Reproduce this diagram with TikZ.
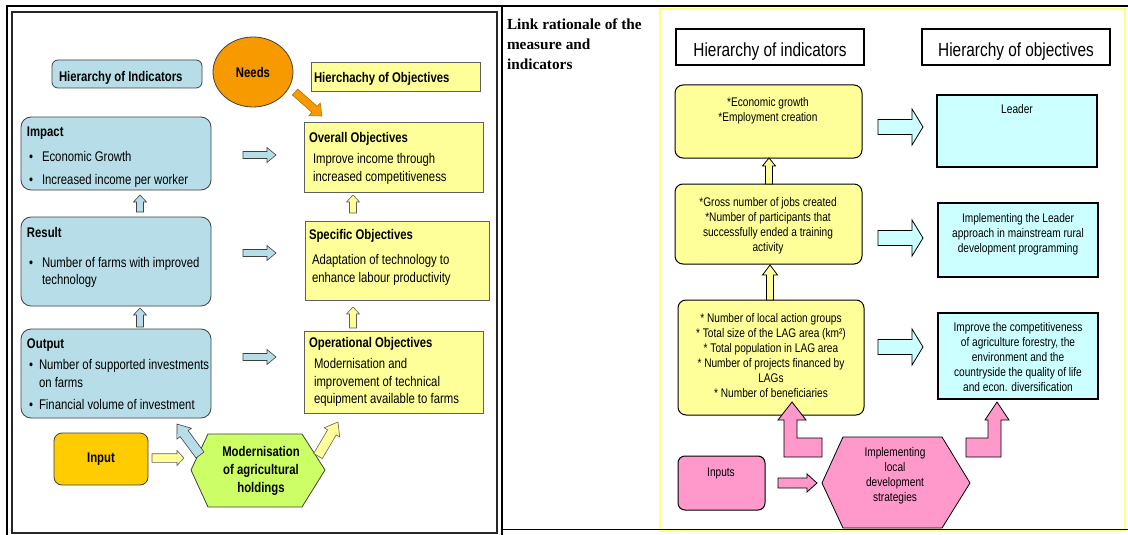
\documentclass[tikz,border=0pt]{standalone}
\usepackage{fontspec}
\setmainfont{Liberation Sans}[FakeStretch=0.81]
\newfontfamily\tfont{Liberation Serif}
\usetikzlibrary{calc,shapes.geometric}
\definecolor{lblue}{HTML}{B7DEE8}
\definecolor{lyel}{HTML}{FFFF99}
\definecolor{needsc}{HTML}{F79A00}
\definecolor{goldc}{HTML}{FFCC00}
\definecolor{lgreen}{HTML}{CCFF66}
\definecolor{cyanb}{HTML}{CCFFFF}
\definecolor{pinkb}{HTML}{FF99CC}
\definecolor{bord}{HTML}{404040}
\definecolor{ybord}{HTML}{606060}
\definecolor{yframe}{HTML}{FFFF80}
\newcommand\lf{\fontsize{14}{16}\selectfont}
\newcommand\rf{\fontsize{12.5}{15}\selectfont}
% block arrow: #1 style, #2 tail, #3 tip, #4 half shaft, #5 half head, #6 head length
\newcommand\blkarrow[6]{%
  \coordinate (bac) at ($(#3)!#6!(#2)$);
  \path[#1] ($(#2)!#4!90:(#3)$) -- ($(bac)!#4!90:(#3)$) -- ($(bac)!#5!90:(#3)$) -- (#3)
    -- ($(bac)!#5!-90:(#3)$) -- ($(bac)!#4!-90:(#3)$) -- ($(#2)!#4!-90:(#3)$) -- cycle;}
\begin{document}
\begin{tikzpicture}[x=1pt,y=-1pt,
  every node/.style={inner sep=0pt, outer sep=0pt},
  lbox/.style={draw=bord, fill=lblue, rounded corners=10pt, line width=0.8pt},
  ybox/.style={draw=ybord, fill=lyel, line width=0.8pt},
  ltxt/.style={anchor=mid west, font=\lf, yshift=-2.5pt},
  ltit/.style={anchor=mid west, font=\lf\bfseries, yshift=-2.5pt},
  rtxt/.style={anchor=north, align=center, font=\rf},
  ryb/.style={draw=black, fill=lyel, rounded corners=8pt, line width=1pt},
  rcb/.style={draw=black, fill=cyanb, line width=1.2pt},
  hbox/.style={draw=black, fill=white, line width=1.8pt},
  la/.style={fill=lblue, draw=bord, line width=0.6pt},
  ya/.style={fill=lyel, draw=ybord, line width=0.6pt},
  oa/.style={fill=needsc, draw=needsc!75!black, line width=0.6pt},
  ca/.style={fill=cyanb, draw=black, line width=0.8pt},
  yra/.style={fill=lyel, draw=black, line width=0.8pt},
  pa/.style={fill=pinkb, draw=black, line width=0.8pt}]
\useasboundingbox (0,0) rectangle (1128,535);
% ---------- frames ----------
\draw[yframe, line width=1.6pt] (660,9) rectangle (1125,531);
\draw[line width=2pt] (7,535) -- (7,6) -- (1128,6);
\draw[black!85, line width=1.6pt] (12,12) rectangle (497,533);
\draw[line width=1.8pt] (502,6) -- (502,535);
\draw[line width=1pt] (502,529) -- (1128,529);
% ---------- left panel ----------
\node[lbox, rounded corners=6pt, minimum width=150pt, minimum height=28pt] (hind) at (127,74) {};
\node[ltit] (hindt) at (59,76) {Hierarchy of Indicators};
\node[ellipse, draw=bord, fill=needsc, line width=0.8pt, minimum width=80pt, minimum height=70pt, font=\lf\bfseries] (needs) at (253,72) {Needs};
\node[ybox, minimum width=169pt, minimum height=29pt] (hobj) at (395.5,76.5) {};
\node[ltit] (hobjt) at (314,77) {Hierchachy of Objectives};

\node[lbox, minimum width=190pt, minimum height=73pt] (impact) at (116,153.5) {};
\node[ltit] (impt) at (27,131) {Impact};
\node[ltxt] (impb1) at (29,156) {•};
\node[ltxt] (imp1) at (42,156) {Economic Growth};
\node[ltxt] (impb2) at (29,179) {•};
\node[ltxt] (imp2) at (42,179) {Increased income per worker};

\node[ybox, minimum width=179pt, minimum height=70pt] (overall) at (393.5,157) {};
\node[ltit] (ovt) at (309,137) {Overall Objectives};
\node[ltxt] (ov1) at (313,158) {Improve income through};
\node[ltxt] (ov2) at (313,176) {increased competitiveness};

\node[lbox, minimum width=190pt, minimum height=89pt] (result) at (116,261.5) {};
\node[ltit] (rest) at (27,232) {Result};
\node[ltxt] (resb1) at (29,262) {•};
\node[ltxt] (res1) at (42,262) {Number of farms with improved};
\node[ltxt] (res2) at (42,279) {technology};

\node[ybox, minimum width=184pt, minimum height=79pt] (specific) at (397,260.5) {};
\node[ltit] (spt) at (309,234) {Specific Objectives};
\node[ltxt] (sp1) at (312,259) {Adaptation of technology to};
\node[ltxt] (sp2) at (312,277) {enhance labour productivity};

\node[lbox, minimum width=190pt, minimum height=89pt] (output) at (116,373.5) {};
\node[ltit] (outt) at (27,343) {Output};
\node[ltxt] (outb1) at (29,364) {•};
\node[ltxt] (out1) at (39,364) {Number of supported investments};
\node[ltxt] (out2) at (39,382) {on farms};
\node[ltxt] (outb2) at (29,404) {•};
\node[ltxt] (out3) at (39,404) {Financial volume of investment};

\node[ybox, minimum width=179pt, minimum height=82pt] (oper) at (393.5,372) {};
\node[ltit] (opt) at (309,342) {Operational Objectives};
\node[ltxt] (op1) at (314,363) {Modernisation and};
\node[ltxt] (op2) at (314,381) {improvement of technical};
\node[ltxt] (op3) at (314,398) {equipment available to farms};

\node[draw=bord, fill=goldc, rounded corners=8pt, line width=0.8pt, minimum width=94pt, minimum height=52pt, font=\lf\bfseries] (input) at (101,459) {Input};

\draw[draw=bord, fill=lgreen, line width=0.8pt] (191,470) coordinate (hxW) -- (208,434) -- (302,434) -- (325,470) coordinate (hxE) -- (302,507) -- (208,507) -- cycle;
\node[align=center, font=\fontsize{14}{18}\selectfont\bfseries] (hext) at (261,471) {Modernisation\\of agricultural\\holdings};

% left arrows
\coordinate (n1) at (295,92);   \coordinate (n2) at (322,116);
\blkarrow{oa}{n1}{n2}{4pt}{8.5pt}{10pt}
\foreach \y/\n in {155/h1,253/h2,357/h3}{
  \coordinate (\n t) at (243,\y); \coordinate (\n h) at (276,\y);
  \blkarrow{la}{\n t}{\n h}{3.5pt}{7.5pt}{9pt}}
\coordinate (v1t) at (140,212); \coordinate (v1h) at (140,195);
\coordinate (v2t) at (140,327); \coordinate (v2h) at (140,308);
\coordinate (v3t) at (353,213); \coordinate (v3h) at (353,195);
\coordinate (v4t) at (353,328); \coordinate (v4h) at (353,307);
\blkarrow{la}{v1t}{v1h}{3.5pt}{6.5pt}{7pt}
\blkarrow{la}{v2t}{v2h}{3.5pt}{6.5pt}{7pt}
\blkarrow{ya}{v3t}{v3h}{3.5pt}{6.5pt}{7pt}
\blkarrow{ya}{v4t}{v4h}{3.5pt}{6.5pt}{7pt}
\coordinate (it) at (152,458); \coordinate (ih) at (184,458);
\blkarrow{ya}{it}{ih}{4.3pt}{7.5pt}{7pt}
\coordinate (d1t) at (200,455); \coordinate (d1h) at (177,424);
\blkarrow{la}{d1t}{d1h}{5pt}{9pt}{12pt}
\coordinate (d2t) at (318,456); \coordinate (d2h) at (338,422);
\blkarrow{ya}{d2t}{d2h}{5pt}{9pt}{12pt}

% ---------- right panel ----------
\node[anchor=north west, align=left, font=\tfont\bfseries\fontsize{15.3}{20}\selectfont] (link) at (507,19) {Link rationale of the\\measure and\\indicators};

\node[hbox, minimum width=188pt, minimum height=36pt] (hindR) at (770,47) {};
\node[anchor=base, font=\fontsize{19}{22}\selectfont] (hindRt) at (770,57) {Hierarchy of indicators};
\node[hbox, minimum width=188pt, minimum height=36pt] (hobjR) at (1016,47) {};
\node[anchor=base, font=\fontsize{19}{22}\selectfont] (hobjRt) at (1016,57) {Hierarchy of objectives};

\node[ryb, minimum width=187pt, minimum height=73pt] (b1) at (768.5,121.5) {};
\node[rtxt] (b1t) at (768,97) {*Economic growth\\*Employment creation};
\node[ryb, minimum width=187pt, minimum height=80pt] (b2) at (768.5,224) {};
\node[rtxt] (b2t) at (768,197) {*Gross number of jobs created\\*Number of participants that\\successfully ended a training\\activity};
\node[ryb, minimum width=186pt, minimum height=115pt] (b3) at (771,357.5) {};
\node[rtxt] (b3t) at (771,313) {* Number of local action groups\\* Total size of the LAG area (km²)\\* Total population in LAG area\\* Number of projects financed by\\LAGs\\* Number of beneficiaries};

\node[rcb, minimum width=160pt, minimum height=72pt] (leader) at (1017,131) {};
\node[rtxt] (leadert) at (1017,104) {Leader};
\node[rcb, minimum width=160pt, minimum height=74pt] (impl) at (1018,240) {};
\node[rtxt] (implt) at (1018,213) {Implementing the Leader\\approach in mainstream rural\\development programming};
\node[rcb, minimum width=160pt, minimum height=86pt] (improve) at (1018,356) {};
\node[rtxt] (improvet) at (1018,322) {Improve the competitiveness\\of agriculture forestry, the\\environment and the\\countryside the quality of life\\and econ. diversification};

\node[draw=black, fill=pinkb, rounded corners=7pt, line width=1pt, minimum width=87pt, minimum height=54pt] (inputs) at (721.5,483) {};
\node[rtxt] (inputst) at (721,468) {Inputs};

\draw[draw=black, fill=pinkb, line width=0.8pt] (822,483) coordinate (hyW) -- (843,437) -- (942,437) -- (970,483) coordinate (hyE) -- (942,528) -- (843,528) -- cycle;
\node[rtxt] (hyt) at (895,447) {Implementing\\local\\development\\strategies};

% right arrows
\foreach \y/\n in {127/r1,238/r2,347/r3}{
  \coordinate (\n t) at (878,\y); \coordinate (\n h) at (923,\y);
  \blkarrow{ca}{\n t}{\n h}{7.5pt}{18pt}{11pt}}
\coordinate (u1t) at (769,184); \coordinate (u1h) at (769,158);
\blkarrow{yra}{u1t}{u1h}{3.5pt}{6.5pt}{8pt}
\coordinate (u2t) at (770,300); \coordinate (u2h) at (770,265);
\blkarrow{yra}{u2t}{u2h}{3.5pt}{7.5pt}{10pt}
\coordinate (pt) at (778,483); \coordinate (ph) at (817,483);
\blkarrow{pa}{pt}{ph}{5pt}{9pt}{10pt}
\path[pa] (822,438) -- (797,438) -- (797,420) -- (806,420) -- (792,402) -- (778,420) -- (784,420) -- (784,457) -- (822,457) -- cycle;
\path[pa] (966,438) -- (988,438) -- (988,420) -- (985,420) -- (997,402) -- (1009,420) -- (1001,420) -- (1001,457) -- (966,457) -- cycle;
\end{tikzpicture}
\end{document}
